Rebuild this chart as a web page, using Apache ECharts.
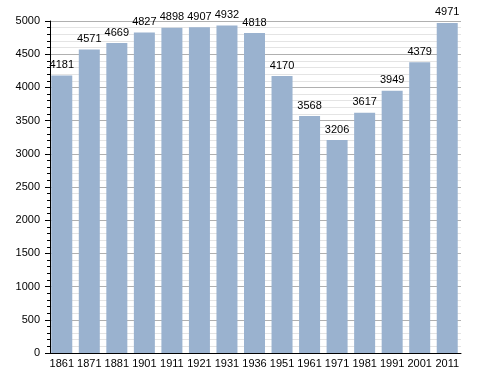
<!DOCTYPE html>
<html><head><meta charset="utf-8">
<script src="https://cdn.jsdelivr.net/npm/echarts@6/dist/echarts.min.js"></script>
<style>html,body{margin:0;padding:0;background:#fff}#c{width:488px;height:373px}</style>
</head><body><div id="c"></div>
<script>
var years = ["1861","1871","1881","1901","1911","1921","1931","1936","1951","1961","1971","1981","1991","2001","2011"];
var population = [4181,4571,4669,4827,4898,4907,4932,4818,4170,3568,3206,3617,3949,4379,4971];
var yTicks = [0,500,1000,1500,2000,2500,3000,3500,4000,4500,5000];

var chart = echarts.init(document.getElementById('c'), null, {renderer:'canvas'});
chart.setOption({
  animation:false,
  backgroundColor:'#fff',
  textStyle:{fontFamily:'Liberation Sans, Arial, sans-serif'},
  grid:{left:48,right:27,top:21,bottom:20,containLabel:false},
  xAxis:{
    type:'category', data:years,
    axisLine:{lineStyle:{color:'#000',width:1}},
    axisTick:{show:false},
    axisLabel:{color:'#000',fontSize:11,margin:5,interval:0}
  },
  yAxis:{
    type:'value', min:yTicks[0], max:yTicks[yTicks.length-1], interval:500,
    offset:-2,
    axisLine:{show:true,lineStyle:{color:'#000',width:1}},
    axisTick:{show:true,inside:false,length:5,lineStyle:{color:'#000'}},
    minorTick:{show:true,splitNumber:5,length:3,lineStyle:{color:'#000'}},
    axisLabel:{color:'#000',fontSize:11,margin:10,formatter:function(v){return String(v);}},
    splitLine:{show:true,lineStyle:{color:'#b0b0b0',width:1}},
    minorSplitLine:{show:true,lineStyle:{color:'#e4e4e4',width:1}}
  },
  series:[{
    type:'bar', data:population, barWidth:21,
    itemStyle:{color:'#9ab2cf'},
    label:{show:true,position:'top',color:'#000',fontSize:11,distance:5}
  }]
});
</script></body></html>
